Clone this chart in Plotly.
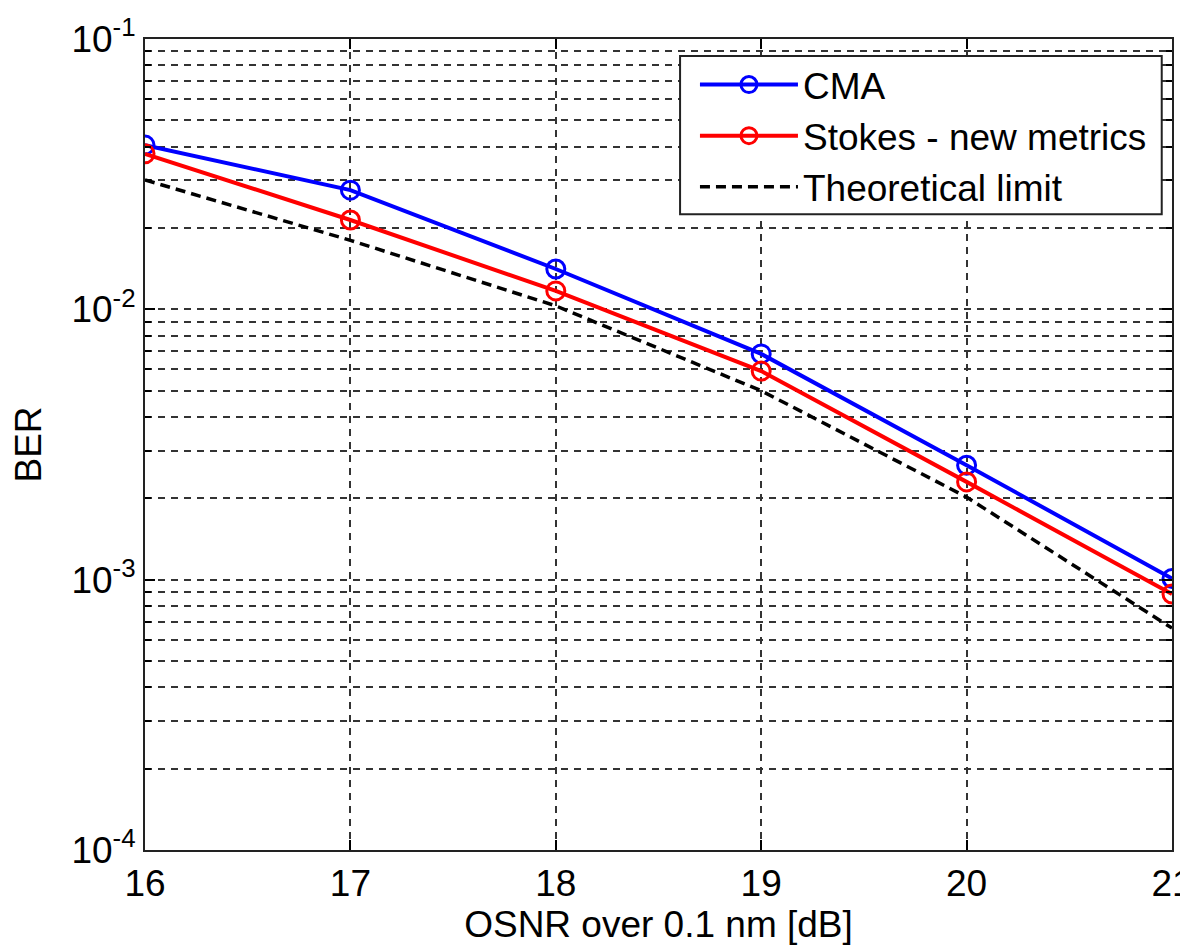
import plotly.graph_objects as go

osnr = [16, 17, 18, 19, 20, 21]
ber_cma = [0.0405, 0.0276, 0.0141, 0.00684, 0.00265, 0.00101]
ber_stokes = [0.0376, 0.0214, 0.0117, 0.00591, 0.00230, 0.000885]
ber_theory = [0.0301, 0.0180, 0.0103, 0.00500, 0.00202, 0.000662]

ytick_vals = [1e-4, 1e-3, 1e-2, 1e-1]
ytick_text = ["10<sup>-4</sup>", "10<sup>-3</sup>", "10<sup>-2</sup>", "10<sup>-1</sup>"]
xtick_vals = [16, 17, 18, 19, 20, 21]

font = "Liberation Sans, Arial, sans-serif"
fs = 37

fig = go.Figure()
fig.add_trace(go.Scatter(x=osnr, y=ber_cma, name="CMA", mode="lines+markers",
                         line=dict(color="#0000ff", width=4),
                         marker=dict(symbol="circle-open", size=18, color="#0000ff",
                                     line=dict(width=3, color="#0000ff"))))
fig.add_trace(go.Scatter(x=osnr, y=ber_stokes, name="Stokes - new metrics", mode="lines+markers",
                         line=dict(color="#ff0000", width=4),
                         marker=dict(symbol="circle-open", size=18, color="#ff0000",
                                     line=dict(width=3, color="#ff0000"))))
fig.add_trace(go.Scatter(x=osnr, y=ber_theory, name="Theoretical limit", mode="lines",
                         line=dict(color="black", width=3.5, dash="10px,6px")))

grid_kw = dict(showgrid=True, gridcolor="#333333", gridwidth=1.5, griddash="7px,6px")

# legend frame (drawn as a paper-referenced box behind the legend entries)
fig.add_shape(type="rect", xref="paper", yref="paper",
              x0=0.521, x1=0.990, y0=0.784, y1=0.979,
              fillcolor="white", line=dict(color="#222222", width=2), layer="above")

fig.update_layout(
    width=1188, height=937,
    paper_bgcolor="white", plot_bgcolor="white",
    margin=dict(l=137, r=24, t=31, b=95, autoexpand=False),
    font=dict(family=font, size=fs, color="black"),
    showlegend=True,
    legend=dict(x=0.5355, y=0.9815, xanchor="left", yanchor="top",
                bgcolor="rgba(0,0,0,0)", borderwidth=0,
                font=dict(size=fs, family=font), tracegroupgap=0,
                itemwidth=98),
    xaxis=dict(range=[16, 21], tickvals=xtick_vals, automargin=False,
               ticks="inside", ticklen=10, tickcolor="black", tickwidth=2,
               showline=True, linecolor="#222222", linewidth=2, mirror="ticks",
               zeroline=False, ticklabeloverflow="allow",
               tickfont=dict(size=fs, family=font),
               title=dict(text="OSNR over 0.1 nm [dB]", font=dict(size=fs, family=font), standoff=8),
               **grid_kw),
    yaxis=dict(type="log", range=[-4, -1], tickvals=ytick_vals, ticktext=ytick_text,
               automargin=False,
               ticks="inside", ticklen=10, tickcolor="black", tickwidth=2,
               showline=True, linecolor="#222222", linewidth=2, mirror="ticks",
               zeroline=False, ticklabeloverflow="allow",
               tickfont=dict(size=fs, family=font),
               title=dict(text="BER", font=dict(size=fs, family=font), standoff=20),
               minor=dict(dtick="D1", ticks="inside", ticklen=6, tickcolor="black",
                          showgrid=True, gridcolor="#333333", gridwidth=1.5, griddash="7px,6px"),
               **grid_kw),
)

fig.write_html("out.html")
